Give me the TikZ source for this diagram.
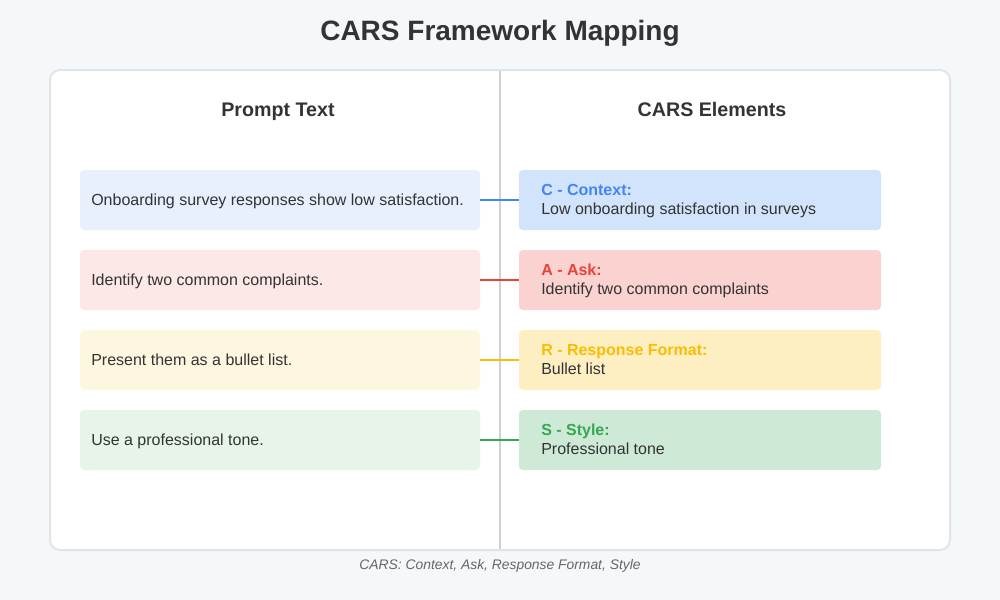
\documentclass[tikz,border=0pt]{standalone}
\usepackage{fontspec}
\setmainfont{Liberation Sans}
\definecolor{bgc}{HTML}{F5F8FA}
\definecolor{cardborder}{HTML}{E1E5E9}
\definecolor{divc}{HTML}{CDD1D6}
\definecolor{txt}{HTML}{333333}
\definecolor{gtxt}{HTML}{666666}
\definecolor{cblue}{HTML}{4285F4}
\definecolor{cred}{HTML}{EA4335}
\definecolor{cyel}{HTML}{FBBC04}
\definecolor{cgreen}{HTML}{34A853}
\definecolor{lblue}{HTML}{E8F0FE}
\definecolor{lred}{HTML}{FCE8E6}
\definecolor{lyel}{HTML}{FEF7E0}
\definecolor{lgreen}{HTML}{E6F4EA}
\definecolor{rblue}{HTML}{D2E3FC}
\definecolor{rred}{HTML}{FAD2CF}
\definecolor{ryel}{HTML}{FEEFC3}
\definecolor{rgreen}{HTML}{CEEAD6}
\tikzset{
  lbox/.style={rounded corners=3pt, minimum width=300pt, minimum height=45pt, inner sep=0pt},
  rbox/.style={rounded corners=3pt, minimum width=271.5pt, minimum height=45pt, inner sep=0pt},
  btxt/.style={anchor=base west, inner sep=0pt, text=txt, font=\fontsize{12}{14}\selectfont},
  ttxt/.style={anchor=base west, inner sep=0pt, font=\bfseries\fontsize{12}{14}\selectfont},
  link/.style={line width=1.5pt},
  head/.style={anchor=base, inner sep=0pt, font=\bfseries\fontsize{14.75}{17}\selectfont, text=txt}
}
\begin{document}
\begin{tikzpicture}[x=0.75pt,y=-0.75pt]
\useasboundingbox (0,0) rectangle (1000,600);
\fill[bgc] (0,0) rectangle (1000,600);
\draw[cardborder, line width=1.5pt, fill=white, rounded corners=7.5pt] (50,70) rectangle (950,550);
\draw[divc, line width=1.5pt] (500,71) -- (500,549);
\node[anchor=base, inner sep=0pt, font=\bfseries\fontsize{21}{24}\selectfont, text=txt] (title) at (500,40) {CARS Framework Mapping};
\node[head] (hl) at (278,116) {Prompt Text};
\node[head] (hr) at (712,116) {CARS Elements};

\node[lbox, fill=lblue] (l1) at (280,200) {};
\node[lbox, fill=lred] (l2) at (280,280) {};
\node[lbox, fill=lyel] (l3) at (280,360) {};
\node[lbox, fill=lgreen] (l4) at (280,440) {};
\node[btxt] (l1t) at (91,205) {Onboarding survey responses show low satisfaction.};
\node[btxt] (l2t) at (91,285) {Identify two common complaints.};
\node[btxt] (l3t) at (91,365) {Present them as a bullet list.};
\node[btxt] (l4t) at (91,445) {Use a professional tone.};

\node[rbox, fill=rblue] (r1) at (700,200) {};
\node[rbox, fill=rred] (r2) at (700,280) {};
\node[rbox, fill=ryel] (r3) at (700,360) {};
\node[rbox, fill=rgreen] (r4) at (700,440) {};
\node[ttxt, text=cblue] (r1h) at (541,195) {C - Context:};
\node[btxt] (r1t) at (541,214.5) {Low onboarding satisfaction in surveys};
\node[ttxt, text=cred] (r2h) at (541,275) {A - Ask:};
\node[btxt] (r2t) at (541,294.5) {Identify two common complaints};
\node[ttxt, text=cyel] (r3h) at (541,355) {R - Response Format:};
\node[btxt] (r3t) at (541,374.5) {Bullet list};
\node[ttxt, text=cgreen] (r4h) at (541,435) {S - Style:};
\node[btxt] (r4t) at (541,454.5) {Professional tone};

\draw[link, cblue] (l1.east) -- (r1.west);
\draw[link, cred] (l2.east) -- (r2.west);
\draw[link, cyel] (l3.east) -- (r3.west);
\draw[link, cgreen] (l4.east) -- (r4.west);

\node[anchor=base, inner sep=0pt, font=\itshape\fontsize{10.4}{12}\selectfont, text=gtxt] (foot) at (500,569) {CARS: Context, Ask, Response Format, Style};
\end{tikzpicture}
\end{document}
